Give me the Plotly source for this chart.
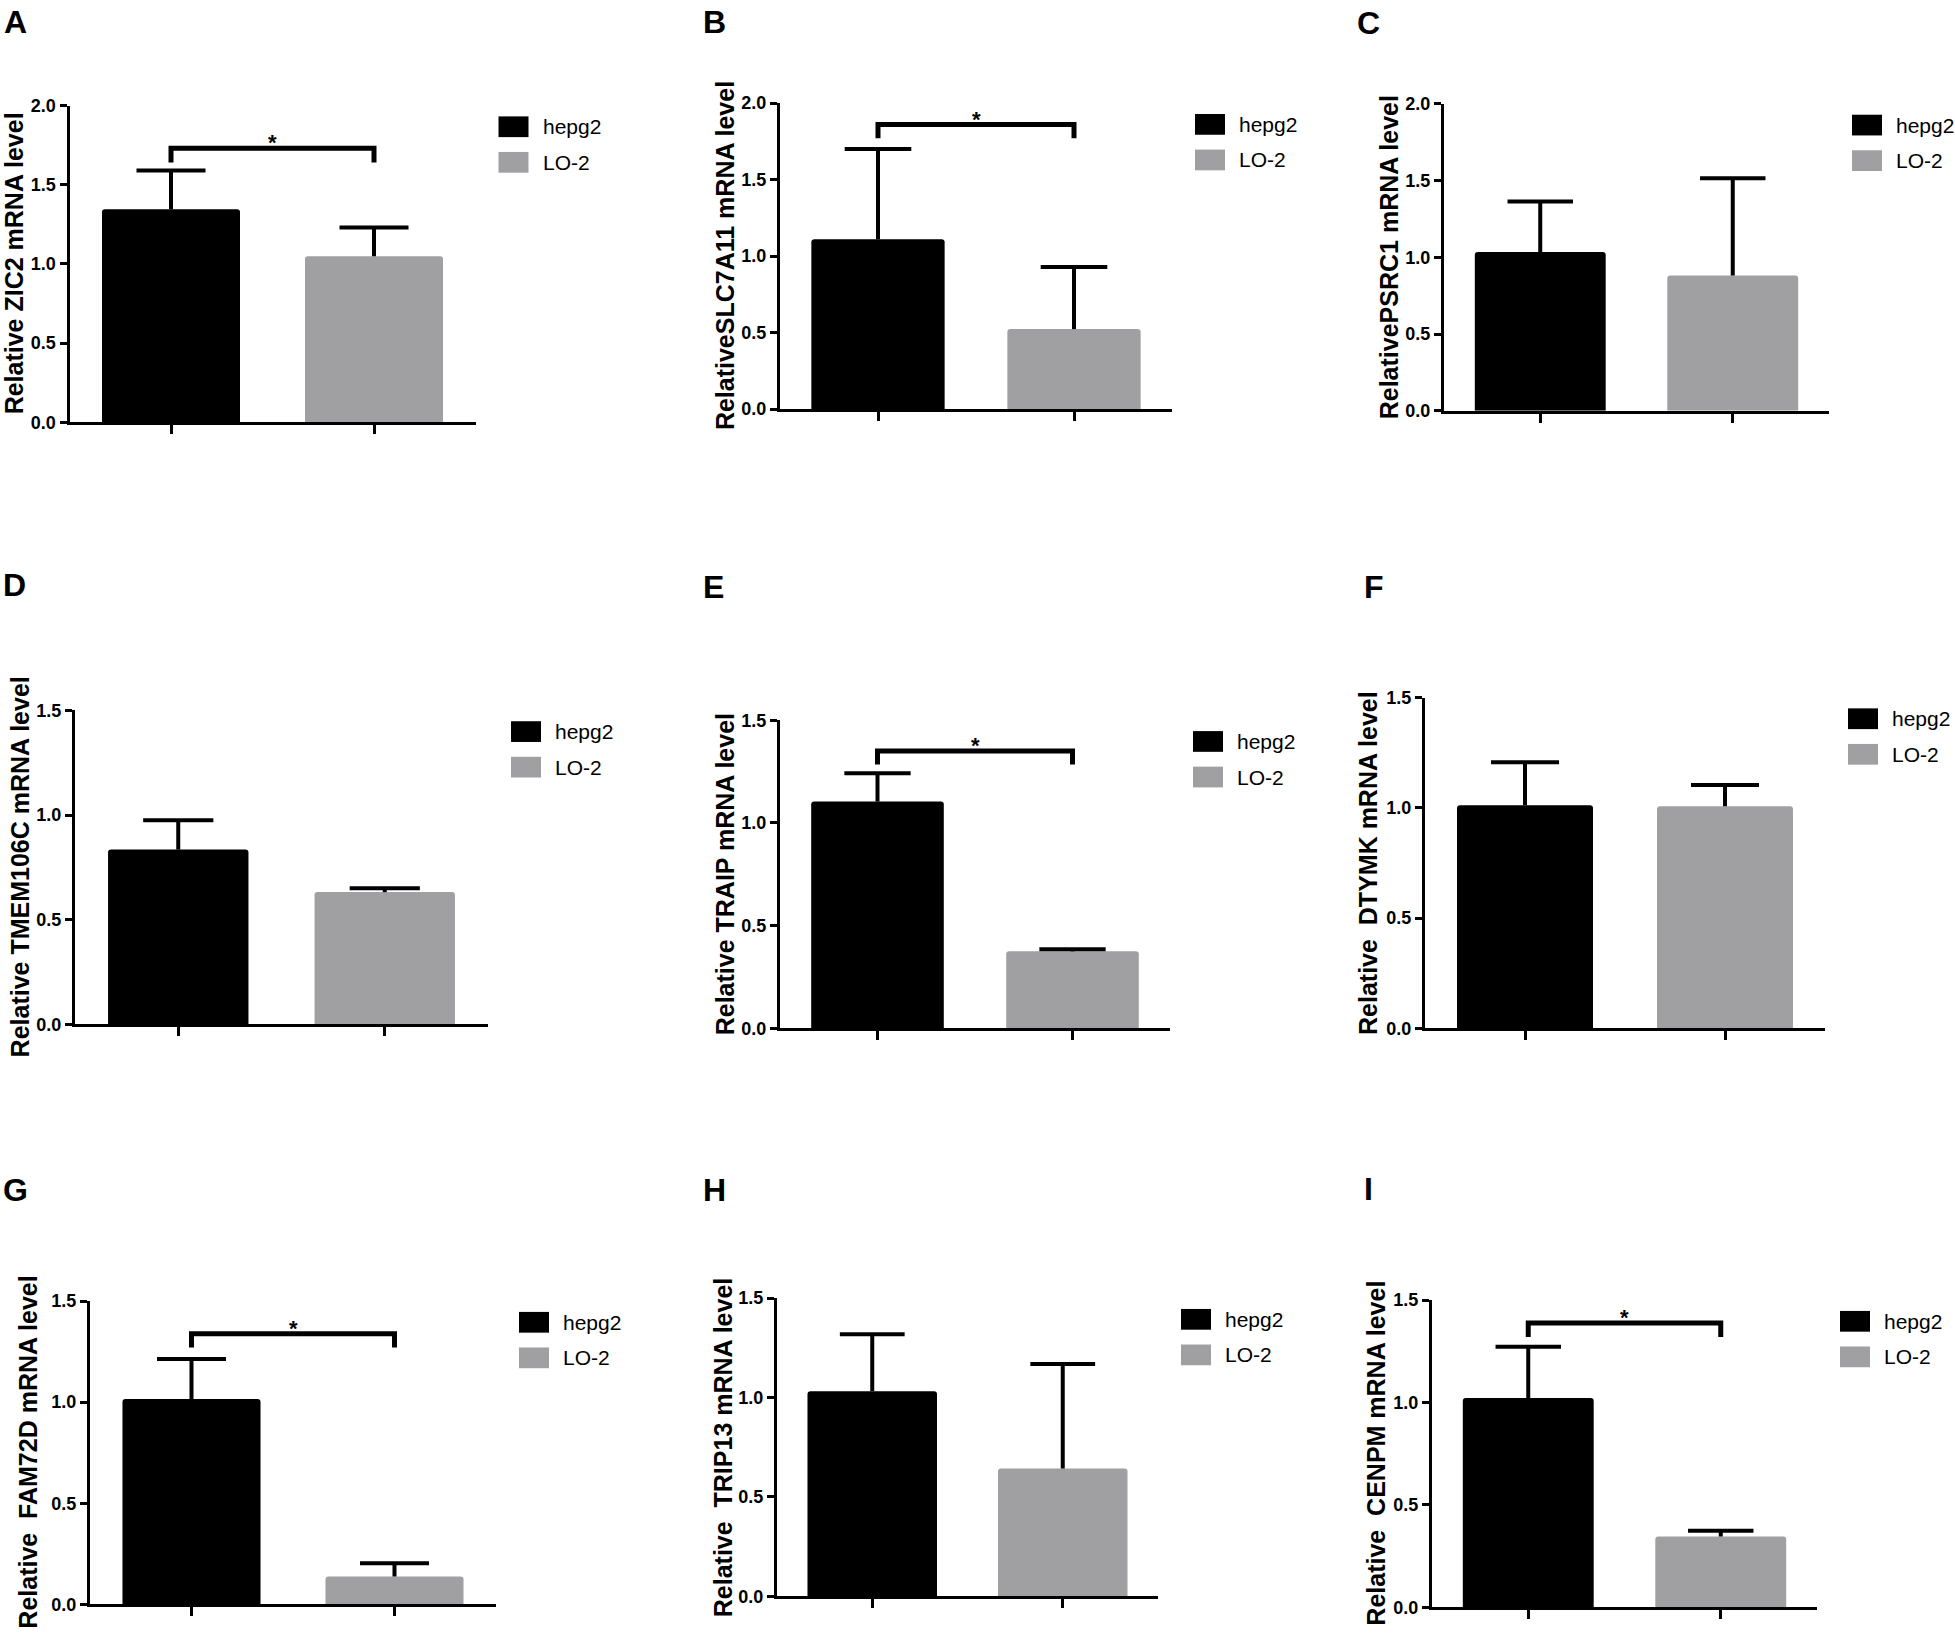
import plotly.graph_objects as go
from plotly.subplots import make_subplots

# figure size in px
W, H = 1955, 1639

# ---- data ----
panel_letters = ["A", "B", "C", "D", "E", "F", "G", "H", "I"]
y_titles = [
    "Relative ZIC2 mRNA level",
    "RelativeSLC7A11 mRNA level",
    "RelativePSRC1 mRNA level",
    "Relative TMEM106C mRNA level",
    "Relative TRAIP mRNA level",
    "Relative\u00a0 DTYMK mRNA level",
    "Relative\u00a0 FAM72D mRNA level",
    "Relative\u00a0 TRIP13 mRNA level",
    "Relative\u00a0 CENPM mRNA level",
]
groups = ["hepg2", "LO-2"]
hepg2_mean = [1.345, 1.11, 1.034, 0.835, 1.104, 1.012, 1.016, 1.031, 1.022]
hepg2_sd = [0.245, 0.59, 0.329, 0.14, 0.138, 0.195, 0.197, 0.287, 0.25]
lo2_mean = [1.048, 0.523, 0.882, 0.632, 0.375, 1.007, 0.138, 0.643, 0.346]
lo2_sd = [0.182, 0.406, 0.633, 0.019, 0.01, 0.096, 0.065, 0.526, 0.028]
y_max = [2.0, 2.0, 2.0, 1.5, 1.5, 1.5, 1.5, 1.5, 1.5]

# significance brackets (panel index, bracket height, leg end)
sig_panels = [0, 1, 4, 6, 8]
sig_top = [1.73, 1.86, 1.35, 1.338, 1.388]
sig_leg = [1.64, 1.77, 1.285, 1.27, 1.32]

colors = ["#000000", "#a0a0a3"]
means = [hepg2_mean, lo2_mean]
sds = [hepg2_sd, lo2_sd]

# plot areas in px: left, right, top, bottom
boxes = [
    (69.5, 475.5, 96.7, 417.3),
    (780, 1172, 94.3, 404),
    (1444, 1829, 95, 405.7),
    (75, 488, 709, 1027),
    (780, 1170, 719, 1031),
    (1425, 1825, 696, 1031),
    (90, 496, 1307, 1614),
    (777, 1158, 1304, 1606),
    (1432, 1817, 1306, 1617),
]
letter_pos = [(15, 12), (714, 12), (1368, 13), (14, 582), (713, 584), (1374, 584),
              (16, 1195), (714, 1195), (1368, 1194)]
title_x = [13.5, 725, 1389, 20, 725, 1368, 28, 723, 1376]

FONT = "Liberation Sans, Arial, sans-serif"
BAR_W = 0.68
CAP = 0.17


def px(x):
    return x / W


def py(y):
    return 1 - y / H


fig = make_subplots(rows=3, cols=3)

shapes = []
annotations = []

for i in range(9):
    r, c = i // 3 + 1, i % 3 + 1
    for g in range(2):
        m = means[g][i]
        s = sds[g][i]
        fig.add_trace(go.Bar(
            x=[g], y=[m], width=BAR_W, name=groups[g],
            marker=dict(color=colors[g], line=dict(width=0), cornerradius=3),
            showlegend=False,
        ), row=r, col=c)
        # one-sided error bar
        fig.add_trace(go.Scatter(
            x=[g, g, None, g - CAP, g + CAP],
            y=[m, m + s, None, m + s, m + s],
            mode="lines", line=dict(color="black", width=4),
            showlegend=False, hoverinfo="skip",
        ), row=r, col=c)

    left, right, top, bottom = boxes[i]
    xa = "xaxis" if i == 0 else f"xaxis{i + 1}"
    ya = "yaxis" if i == 0 else f"yaxis{i + 1}"
    fig.update_layout({
        xa: dict(domain=[px(left), px(right)], range=[-0.5, 1.5],
                 tickvals=[0, 1], showticklabels=False, ticks="outside",
                 ticklen=9, tickwidth=3, tickcolor="black",
                 showline=True, linewidth=3, linecolor="black",
                 showgrid=False, zeroline=False),
        ya: dict(domain=[py(bottom), py(top)], range=[0, y_max[i]],
                 tick0=0, dtick=0.5, tickformat=".1f", ticks="outside",
                 ticklen=7, tickwidth=3, tickcolor="black",
                 tickfont=dict(family=FONT, size=18, color="black", weight="bold"),
                 showline=True, linewidth=3, linecolor="black",
                 showgrid=False, zeroline=False),
    })

    # panel letter
    lx, ly = letter_pos[i]
    annotations.append(dict(
        text=panel_letters[i], x=px(lx), y=py(ly), xref="paper", yref="paper",
        xanchor="center", yanchor="middle", showarrow=False,
        font=dict(family=FONT, size=32, color="black", weight="bold"),
    ))
    # y axis title
    annotations.append(dict(
        text=y_titles[i], x=px(title_x[i]), y=py((top + bottom) / 2),
        xref="paper", yref="paper", xanchor="center", yanchor="middle",
        textangle=-90, showarrow=False,
        font=dict(family=FONT, size=25, color="black", weight="bold"),
    ))
    # legend
    for g in range(2):
        bx0 = right + 23
        by0 = top + 11 + g * 36
        shapes.append(dict(
            type="rect", xref="paper", yref="paper",
            x0=px(bx0), x1=px(bx0 + 30), y0=py(by0), y1=py(by0 + 21),
            fillcolor=colors[g], line=dict(width=0),
        ))
        annotations.append(dict(
            text=groups[g], x=px(bx0 + 42), y=py(by0 + 10.5),
            xref="paper", yref="paper", xanchor="left", yanchor="middle",
            showarrow=False, font=dict(family=FONT, size=21, color="black"),
        ))

# significance brackets
for k, i in enumerate(sig_panels):
    r, c = i // 3 + 1, i % 3 + 1
    fig.add_trace(go.Scatter(
        x=[0, 0, 1, 1], y=[sig_leg[k], sig_top[k], sig_top[k], sig_leg[k]],
        mode="lines", line=dict(color="black", width=5),
        showlegend=False, hoverinfo="skip",
    ), row=r, col=c)
    xref = "x" if i == 0 else f"x{i + 1}"
    yref = "y" if i == 0 else f"y{i + 1}"
    annotations.append(dict(
        text="*", x=0.5, y=sig_top[k], xref=xref, yref=yref,
        xanchor="center", yanchor="bottom", yshift=-9, showarrow=False,
        font=dict(family=FONT, size=22, color="black", weight="bold"),
    ))

fig.update_layout(
    width=W, height=H, autosize=False,
    margin=dict(l=0, r=0, t=0, b=0),
    barmode="overlay",
    plot_bgcolor="white", paper_bgcolor="white",
    font=dict(family=FONT, color="black"),
    shapes=shapes, annotations=annotations,
    showlegend=False,
)

fig.write_html("out.html", config={"displayModeBar": False},
               post_script="document.body.style.margin='0px';")
